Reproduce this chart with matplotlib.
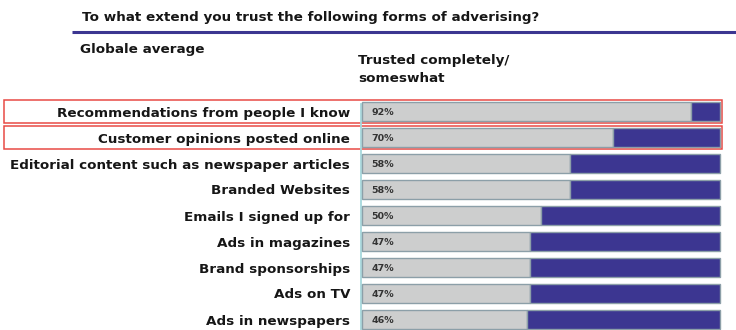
import matplotlib
matplotlib.use('Agg')
import matplotlib.pyplot as plt
from matplotlib.patches import Rectangle
import numpy as np

categories = [
    "Recommendations from people I know",
    "Customer opinions posted online",
    "Editorial content such as newspaper articles",
    "Branded Websites",
    "Emails I signed up for",
    "Ads in magazines",
    "Brand sponsorships",
    "Ads on TV",
    "Ads in newspapers",
]
trusted = [92, 70, 58, 58, 50, 47, 47, 47, 46]
highlighted = [0, 1]

title = "To what extend you trust the following forms of adverising?"
subtitle = "Globale average"
column_head = "Trusted completely/\nsomeswhat"

GRAY = '#cdcece'
NAVY = '#3c3691'
EDGE = '#8c9fa8'
RED = '#e84a45'
INK = '#161616'
FS = 9.7

plt.rcParams['font.family'] = ['DejaVu Sans']

W, H = 736, 330
fig = plt.figure(figsize=(W / 100, H / 100), dpi=100)

# overlay in pixel units for the header and highlight boxes
over = fig.add_axes([0, 0, 1, 1])
over.set_xlim(0, W)
over.set_ylim(H, 0)
over.axis('off')

# bar panel: row spacing of 26 px, first row centred at y=111.5
row_px = 26.0
first_px = 111.5
top_px = first_px - row_px / 2
left_px, right_px = 362, 720
ax = fig.add_axes([left_px / W, 0, (right_px - left_px) / W, (H - top_px) / H])
ax.set_xlim(0, 100)
ax.set_ylim((H - first_px) / row_px, -0.5)

y = np.arange(len(categories))
vals = np.array(trusted)
ax.barh(y, vals, height=0.7, color=GRAY, edgecolor=EDGE, linewidth=1.0, clip_on=False)
ax.barh(y, 100 - vals, left=vals, height=0.7, color=NAVY, edgecolor=EDGE,
        linewidth=1.0, clip_on=False)

for yi, v in zip(y, trusted):
    ax.text(2.6, yi + 0.03, f"{v}%", fontsize=6.8, fontweight='bold', color='#333333',
            va='center', ha='left')

ax.set_yticks(y)
ax.set_yticklabels(categories, fontsize=FS, fontweight='bold', color=INK)
ax.tick_params(axis='y', length=0, pad=8.5)
ax.set_xticks([])
for s in ['top', 'right', 'bottom', 'left']:
    ax.spines[s].set_visible(False)
ax.axvline(-0.3, ymin=0, ymax=1 - 0.2 / (ax.get_ylim()[0] + 0.5), color='#a6d8dc',
           linewidth=1.3, clip_on=False, zorder=0)
ax.patch.set_alpha(0)

# header
over.text(82, 18, title, fontsize=FS, fontweight='bold', color=INK, va='center', ha='left')
over.plot([72, 736], [32, 32], color=NAVY, linewidth=2.2, solid_capstyle='butt')
over.text(80, 50, subtitle, fontsize=FS, fontweight='bold', color=INK, va='center', ha='left')
over.text(358, 69.5, column_head, fontsize=FS, fontweight='bold', color=INK,
          va='center', ha='left', linespacing=1.5)

# red boxes round the top two rows
for i in highlighted:
    yc = first_px + i * row_px
    over.add_patch(Rectangle((4, yc - 11.5), 718, 23, fill=False, edgecolor=RED, linewidth=1.1))

fig.savefig('out.png', dpi=100, facecolor='white')
